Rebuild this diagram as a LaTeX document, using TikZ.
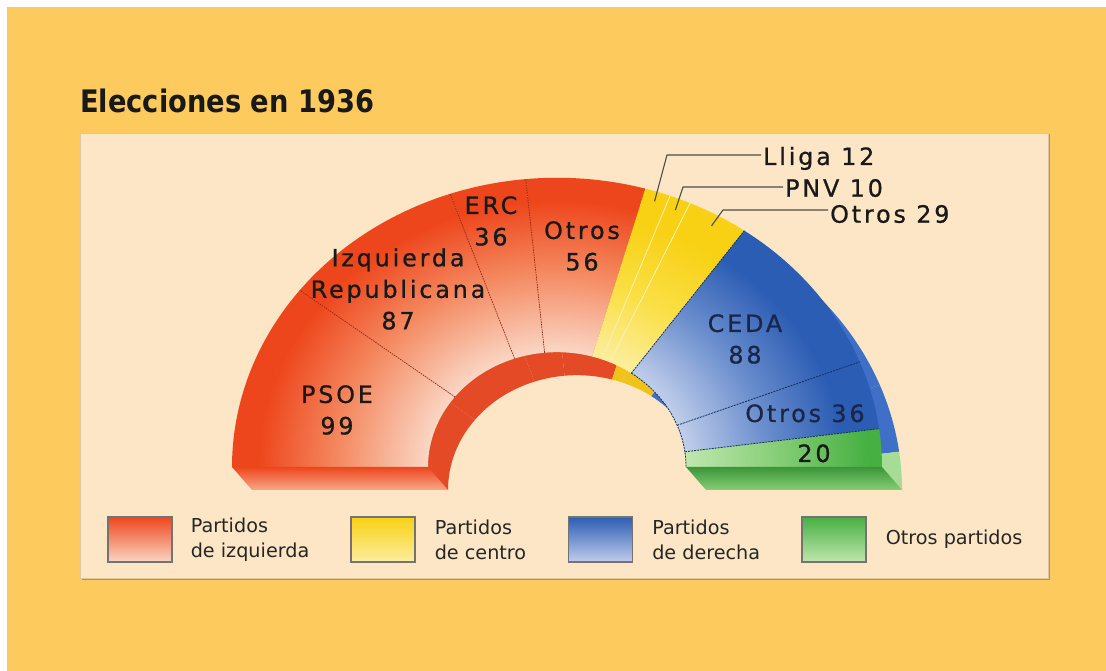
\documentclass[tikz,border=0pt]{standalone}
\usepackage{fontspec}
\setmainfont{DejaVu Sans}
\newfontfamily\titlefont[FakeStretch=0.88]{DejaVu Sans}
\newfontfamily\segfont[LetterSpace=12,FakeBold=0.8]{DejaVu Sans}
\usetikzlibrary{positioning}

\definecolor{pageorange}{HTML}{FDCA5E}
\definecolor{panelpeach}{HTML}{FCE6C5}
\definecolor{panelshadow}{HTML}{B8914E}
\definecolor{redfull}{HTML}{EE461C}
\definecolor{redmid}{HTML}{F4885F}
\definecolor{redpale}{HTML}{FAD6C4}
\definecolor{yelfull}{HTML}{F8D114}
\definecolor{yelmid}{HTML}{FADF44}
\definecolor{yelpale}{HTML}{FCEE9E}
\definecolor{blufull}{HTML}{2C5DB4}
\definecolor{blumid}{HTML}{6D90CE}
\definecolor{blupale}{HTML}{BFCDEA}
\definecolor{grnfull}{HTML}{46B042}
\definecolor{grnmid}{HTML}{86CE76}
\definecolor{grnpale}{HTML}{C0E6AE}
\definecolor{wallred}{HTML}{E44A26}
\definecolor{wallyel}{HTML}{F0C21A}
\definecolor{wallblu}{HTML}{3F6FC6}
\definecolor{wallgrn}{HTML}{A6DC96}
\definecolor{bluetext}{HTML}{1A2648}

\pgfdeclareradialshading{facered}{\pgfpointorigin}{color(0bp)=(redpale);color(10bp)=(redpale);color(17bp)=(redmid);color(23bp)=(redfull);color(50bp)=(redfull)}
\pgfdeclareradialshading{faceyel}{\pgfpointorigin}{color(0bp)=(yelpale);color(10bp)=(yelpale);color(16bp)=(yelmid);color(22bp)=(yelfull);color(50bp)=(yelfull)}
\pgfdeclareradialshading{faceblu}{\pgfpointorigin}{color(0bp)=(blupale);color(10bp)=(blupale);color(16bp)=(blumid);color(22bp)=(blufull);color(50bp)=(blufull)}
\pgfdeclareradialshading{facegrn}{\pgfpointorigin}{color(0bp)=(grnpale);color(10bp)=(grnpale);color(17bp)=(grnmid);color(24bp)=(grnfull);color(50bp)=(grnfull)}

\begin{document}
\begin{tikzpicture}[x=1pt,y=1pt,
    chart/.style={shift={(557,204)},yscale=0.89},
    chartlow/.style={shift={(577,181)},yscale=0.89},
    seglabel/.style={font=\segfont\fontsize{23.8}{31.5}\selectfont, text=black!90, align=center, inner sep=0pt},
    sidelabel/.style={font=\segfont\fontsize{23.8}{28}\selectfont, text=black!90, anchor=base west, inner sep=2pt},
    leader/.style={draw=black!70, line width=1.1pt},
    redsep/.style={draw=redfull!60!black, line width=0.7pt, dash pattern=on 1.5pt off 1pt},
    yelsep/.style={draw=white!70!yelfull, line width=0.8pt},
    blusep/.style={draw=blufull!50!black, line width=0.8pt, dash pattern=on 2pt off 1pt},
    legbox/.style={draw=black!55, line width=1.2pt, minimum width=64pt, minimum height=45pt, inner sep=0pt},
    legtext/.style={font=\fontsize{19.2}{25}\selectfont, text=black!85, align=left, inner sep=0pt}]
\useasboundingbox (0,0) rectangle (1106,671);

%Background
\fill[white] (0,0) rectangle (1106,671);
\fill[pageorange] (7,0) rectangle (1106,664);
\fill[panelshadow] (81.5,91) rectangle (1049.5,537);
\fill[panelpeach, draw=panelshadow!50, line width=0.6pt] (80,93) rectangle (1048,538);

\node[anchor=base west, inner sep=0pt, font=\titlefont\bfseries\fontsize{31}{36}\selectfont, text=black!90] (title) at (80,558) {Elecciones en 1936};

%Walls
\begin{scope}[chartlow]
\foreach \a/\b/\g in {0/99/red,99/186/red,186/222/red,222/278/red,278/290/yel,290/300/yel,300/329/yel,329/417/blu,417/453/blu,453/473/grn}{
    \pgfmathsetmacro\ta{180-\a/473*180}
    \pgfmathsetmacro\tb{180-\b/473*180}
    \fill[fill=wall\g] (\ta:325) arc[start angle=\ta, end angle=\tb, radius=325]
        -- (\tb:129) arc[start angle=\tb, end angle=\ta, radius=129] -- cycle;
}
\coordinate (oLd) at (180:325);
\coordinate (iLd) at (180:129);
\coordinate (oRd) at (0:325);
\coordinate (iRd) at (0:129);
\end{scope}

%Faces
\begin{scope}[chart]
\foreach \a/\b/\g in {0/99/red,99/186/red,186/222/red,222/278/red,278/290/yel,290/300/yel,300/329/yel,329/417/blu,417/453/blu,453/473/grn}{
    \pgfmathsetmacro\ta{180-\a/473*180}
    \pgfmathsetmacro\tb{180-\b/473*180}
    \begin{scope}
        \clip (\ta:325) arc[start angle=\ta, end angle=\tb, radius=325]
            -- (\tb:129) arc[start angle=\tb, end angle=\ta, radius=129] -- cycle;
        \shade[shading=face\g] (0,0) circle (325);
    \end{scope}
}
\foreach \s/\st in {99/redsep,186/redsep,222/redsep,290/yelsep,300/yelsep,329/blusep,417/blusep,453/blusep}{
    \pgfmathsetmacro\t{180-\s/473*180}
    \draw[\st] (\t:129) -- (\t:325);
}
\draw[blusep] (54.8:129) arc[start angle=54.8, end angle=0, radius=129];
\coordinate (oL) at (180:325);
\coordinate (iL) at (180:129);
\coordinate (oR) at (0:325);
\coordinate (iR) at (0:129);
\coordinate (p1) at (71.9:314);
\coordinate (p2) at (67.7:312);
\coordinate (p3) at (60.3:312);
\end{scope}

\shade[top color=redfull, bottom color=redmid!60!redpale] (oL) -- (iL) -- (iLd) -- (oLd) -- cycle;
\shade[top color=grnfull!85!black, bottom color=grnmid] (iR) -- (oR) -- (oRd) -- (iRd) -- cycle;

%Labels
\node[seglabel] (psoe) at (337,261) {PSOE\\99};
\node[seglabel] (izq) at (398,382) {Izquierda\\Republicana\\87};
\node[seglabel] (erc) at (491,450) {ERC\\36};
\node[seglabel] (otrosizq) at (582,425) {Otros\\56};
\node[seglabel, text=bluetext] (ceda) at (745,332) {CEDA\\88};
\node[seglabel, text=bluetext, anchor=base] (otrosder) at (805,249) {Otros 36};
\node[seglabel, anchor=base] (otrosgrn) at (814,209) {20};

\node[sidelabel] (lliga) at (761,506) {Lliga 12};
\node[sidelabel] (pnv) at (783,474.3) {PNV 10};
\node[sidelabel] (otroscen) at (828,448.3) {Otros 29};

%Leaders
\coordinate (k1) at (667,516);
\coordinate (k2) at (683,484);
\coordinate (k3) at (723,461);
\draw[leader] (p1) -- (k1) -- (k1 -| lliga.west);
\draw[leader] (p2) -- (k2) -- (k2 -| pnv.west);
\draw[leader] (p3) -- (k3) -- (k3 -| otroscen.west);

%Legend
\node[legbox, top color=redfull, bottom color=redpale] (kred) at (140,131.5) {};
\node[legbox, top color=yelfull, bottom color=yelpale] (kyel) at (383,131.5) {};
\node[legbox, top color=blufull, bottom color=blupale] (kblu) at (600.5,131.5) {};
\node[legbox, top color=grnfull, bottom color=grnpale] (kgrn) at (834,131.5) {};
\node[legtext, right=18pt of kred] (tred) {Partidos\\de izquierda};
\node[legtext, right=19pt of kyel] (tyel) {Partidos\\de centro};
\node[legtext, right=19pt of kblu] (tblu) {Partidos\\de derecha};
\node[legtext, right=19pt of kgrn] (tgrn) {Otros partidos};
\end{tikzpicture}
\end{document}
